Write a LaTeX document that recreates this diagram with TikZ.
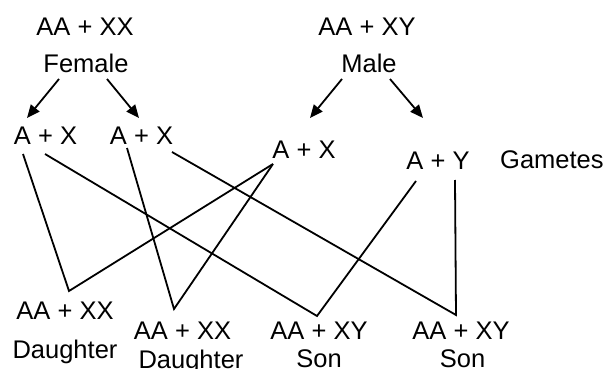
\documentclass[tikz,border=0pt]{standalone}
\usepackage{fontspec}
\setmainfont{Liberation Sans}
\usetikzlibrary{arrows.meta}
\begin{document}
\begin{tikzpicture}[x=1pt,y=-1pt,
  lbl/.style={inner sep=0pt,anchor=base,font=\fontsize{25.5}{30}\selectfont},
  conn/.style={line width=1.8pt,line join=miter},
  arr/.style={line width=1.8pt,-{Triangle[length=13pt,width=11pt]}}]
\useasboundingbox (0,0) rectangle (606,369);
% parents
\node[lbl] (fg) at (85,36) {AA + XX};
\node[lbl] (fem) at (86,73) {Female};
\node[lbl] (mg) at (367,36) {AA + XY};
\node[lbl] (mal) at (369,73) {Male};
% gametes
\node[lbl] (g1) at (45.5,144) {A + X};
\node[lbl] (g2) at (141.5,144) {A + X};
\node[lbl] (g3) at (304,159) {A + X};
\node[lbl] (g4) at (438,169) {A + Y};
\node[lbl,anchor=base west] (gam) at (500,168) {Gametes};
% offspring
\node[lbl] (d1) at (65,319) {AA + XX};
\node[lbl] (d1t) at (65,358) {Daughter};
\node[lbl] (d2) at (182.5,339) {AA + XX};
\node[lbl] (d2t) at (191,368) {Daughter};
\node[lbl] (s1) at (319,339) {AA + XY};
\node[lbl] (s1t) at (319,367) {Son};
\node[lbl] (s2) at (461,339) {AA + XY};
\node[lbl] (s2t) at (462.5,367) {Son};
% arrow coordinates
\coordinate (fa1) at (59,79);  \coordinate (ga1) at (27,118);
\coordinate (fa2) at (107,79); \coordinate (ga2) at (139,118);
\coordinate (ma1) at (342,79); \coordinate (ga3) at (310,118);
\coordinate (ma2) at (390,79); \coordinate (ga4) at (423,118);
\draw[arr] (fa1) -- (ga1);
\draw[arr] (fa2) -- (ga2);
\draw[arr] (ma1) -- (ga3);
\draw[arr] (ma2) -- (ga4);
% line start points
\coordinate (g1a) at (23,154);
\coordinate (g1b) at (45,154);
\coordinate (g2a) at (127,148);
\coordinate (g2b) at (172,152);
\coordinate (g3a) at (273,164);
\coordinate (g4a) at (416,181);
\coordinate (g4b) at (455,180);
% vertices
\coordinate (v1) at (69,291);
\coordinate (v2) at (174,309);
\coordinate (v3) at (317,316);
\coordinate (v4) at (456,315);
\draw[conn] (g1a) -- (v1) -- (g3a);
\draw[conn] (g2a) -- (v2) -- (g3a);
\draw[conn] (g1b) -- (v3) -- (g4a);
\draw[conn] (g2b) -- (v4) -- (g4b);
\end{tikzpicture}
\end{document}
